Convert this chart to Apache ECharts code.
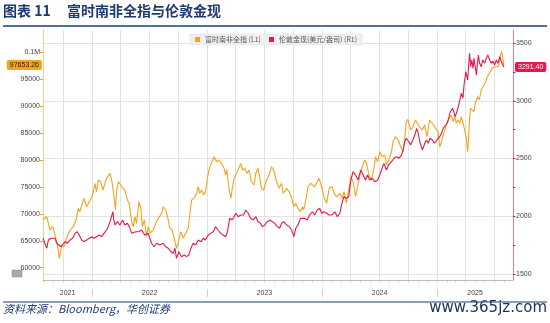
<!DOCTYPE html>
<html><head><meta charset="utf-8">
<script src="https://cdn.jsdelivr.net/npm/echarts@6/dist/echarts.min.js"></script>
<style>html,body{margin:0;padding:0;background:#fff}#c{width:550px;height:323px}</style>
</head><body><div id="c"></div>
<script>
const titleNo = '图表 11';
const titleText = '富时南非全指与伦敦金现';
const sourceText = '资料来源：Bloomberg，华创证券';
const watermark = 'www.365jz.com';
const jseName = '富时南非全指 (L1)';
const goldName = '伦敦金现(美元/盎司) (R1)';

const jseDates = ['2021-07-29','2021-08-10','2021-08-20','2021-08-29','2021-09-05','2021-09-13','2021-09-19','2021-09-27','2021-10-04','2021-10-12','2021-10-23','2021-11-02','2021-11-11','2021-11-18','2021-11-23','2021-12-06','2021-12-15','2021-12-23','2021-12-31','2022-01-05','2022-01-10','2022-01-15','2022-01-21','2022-01-28','2022-02-04','2022-02-11','2022-02-16','2022-02-27','2022-03-02','2022-03-05','2022-03-09','2022-03-14','2022-03-16','2022-03-20','2022-03-26','2022-04-02','2022-04-08','2022-04-15','2022-04-23','2022-04-29','2022-05-03','2022-05-08','2022-05-12','2022-05-17','2022-05-22','2022-05-30','2022-06-05','2022-06-09','2022-06-16','2022-06-23','2022-06-28','2022-07-04','2022-07-14','2022-07-20','2022-07-30','2022-08-10','2022-08-15','2022-08-23','2022-08-31','2022-09-05','2022-09-12','2022-09-19','2022-09-26','2022-10-01','2022-10-10','2022-10-17','2022-10-25','2022-11-02','2022-11-08','2022-11-13','2022-11-21','2022-11-29','2022-12-04','2022-12-09','2022-12-15','2022-12-22','2022-12-27','2023-01-03','2023-01-10','2023-01-17','2023-01-24','2023-01-31','2023-02-08','2023-02-16','2023-02-24','2023-03-01','2023-03-05','2023-03-11','2023-03-18','2023-03-23','2023-03-28','2023-04-10','2023-04-18','2023-04-24','2023-05-01','2023-05-08','2023-05-15','2023-05-22','2023-05-30','2023-06-05','2023-06-12','2023-06-18','2023-06-23','2023-06-30','2023-07-09','2023-07-17','2023-07-25','2023-08-01','2023-08-10','2023-08-18','2023-08-26','2023-08-31','2023-09-11','2023-09-19','2023-09-27','2023-10-04','2023-10-10','2023-10-17','2023-10-25','2023-10-31','2023-11-04','2023-11-11','2023-11-18','2023-11-26','2023-12-02','2023-12-09','2023-12-17','2023-12-23','2023-12-31','2024-01-07','2024-01-16','2024-01-24','2024-02-02','2024-02-11','2024-02-19','2024-02-27','2024-03-05','2024-03-11','2024-03-19','2024-03-26','2024-04-02','2024-04-09','2024-04-17','2024-04-23','2024-04-30','2024-05-08','2024-05-16','2024-05-22','2024-05-29','2024-06-07','2024-06-15','2024-06-19','2024-06-26','2024-07-03','2024-07-10','2024-07-19','2024-07-24','2024-07-31','2024-08-09','2024-08-14','2024-08-22','2024-08-30','2024-09-07','2024-09-15','2024-09-20','2024-09-25','2024-09-30','2024-10-09','2024-10-16','2024-10-24','2024-10-30','2024-11-07','2024-11-15','2024-11-22','2024-11-30','2024-12-08','2024-12-14','2024-12-21','2024-12-27','2025-01-04','2025-01-09','2025-01-15','2025-01-22','2025-01-30','2025-02-08','2025-02-15','2025-02-20','2025-02-26','2025-03-03','2025-03-08','2025-03-14','2025-03-19','2025-03-27','2025-04-03','2025-04-08','2025-04-10','2025-04-14','2025-04-17','2025-04-23','2025-04-28','2025-05-03','2025-05-10','2025-05-15','2025-05-21','2025-05-27','2025-06-04','2025-06-09','2025-06-14','2025-06-19','2025-06-25','2025-07-02','2025-07-08','2025-07-15','2025-07-21','2025-07-25','2025-07-29','2025-08-01'];
const jseValues = [68860,69480,67000,67620,66070,64210,61740,64210,63900,65520,67000,67620,68860,71040,70400,72900,71330,72260,73190,74120,75680,74120,76300,75980,74440,75680,76610,77540,77230,75980,74440,71970,70720,74440,75980,75370,74750,74440,72580,71970,70110,68250,67620,69480,68250,72260,71090,67620,68860,65760,67620,66450,67000,67930,69180,70110,71330,70720,68860,67320,67000,65460,63600,64530,66690,65460,66390,67320,70110,72580,72900,73830,75050,73830,74440,73510,74120,76910,78770,79700,80630,79700,80020,79400,78470,77230,78160,75050,72900,75050,76610,78160,79400,78160,78470,77540,78160,75980,75370,77540,78470,76610,74750,74440,76300,77230,78770,78160,75980,74750,75680,73830,74750,74120,72900,71330,71970,71040,70400,71330,70720,72580,75050,75680,75980,75050,75980,76610,75050,73190,71970,74750,75050,73510,73190,73830,72900,74120,71970,74440,76910,75980,73190,75050,76910,78770,80020,79400,77230,76300,78770,80630,79700,81560,80630,80950,79090,80020,81560,83420,84350,83730,82490,81560,84050,87140,87580,85590,86210,87450,86840,86150,85590,86520,84350,87450,87770,86520,85910,85280,82490,83420,84980,86520,87770,88380,87140,88070,86840,87450,86840,88070,86210,84350,81560,83120,87450,89630,89920,88990,90850,91780,91170,93030,92710,94570,95500,95200,96430,97060,97360,97680,97360,99540,100150,98920,97653.26];

const goldDates = ['2021-07-29','2021-08-04','2021-08-10','2021-08-15','2021-08-23','2021-08-29','2021-09-05','2021-09-11','2021-09-16','2021-09-24','2021-09-30','2021-10-07','2021-10-14','2021-10-23','2021-10-31','2021-11-08','2021-11-15','2021-11-21','2021-11-29','2021-12-06','2021-12-15','2021-12-23','2021-12-31','2022-01-07','2022-01-15','2022-01-24','2022-01-31','2022-02-08','2022-02-16','2022-02-21','2022-02-27','2022-03-08','2022-03-11','2022-03-15','2022-03-22','2022-03-30','2022-04-08','2022-04-15','2022-04-23','2022-04-29','2022-05-07','2022-05-12','2022-05-20','2022-05-28','2022-06-07','2022-06-17','2022-06-28','2022-07-09','2022-07-17','2022-07-25','2022-08-04','2022-08-15','2022-08-23','2022-08-31','2022-09-08','2022-09-16','2022-09-21','2022-09-26','2022-10-04','2022-10-12','2022-10-21','2022-10-28','2022-11-04','2022-11-11','2022-11-18','2022-11-26','2022-12-04','2022-12-13','2022-12-20','2022-12-27','2023-01-05','2023-01-13','2023-01-21','2023-01-28','2023-02-05','2023-02-14','2023-02-21','2023-03-01','2023-03-07','2023-03-14','2023-03-22','2023-04-03','2023-04-10','2023-04-18','2023-04-27','2023-05-04','2023-05-12','2023-05-19','2023-05-28','2023-06-05','2023-06-12','2023-06-20','2023-06-26','2023-07-04','2023-07-11','2023-07-20','2023-07-28','2023-08-04','2023-08-12','2023-08-20','2023-08-26','2023-09-02','2023-09-11','2023-09-19','2023-09-27','2023-10-04','2023-10-10','2023-10-17','2023-10-25','2023-10-31','2023-11-08','2023-11-15','2023-11-23','2023-12-02','2023-12-09','2023-12-17','2023-12-25','2023-12-31','2024-01-07','2024-01-16','2024-01-24','2024-02-02','2024-02-11','2024-02-19','2024-02-27','2024-03-03','2024-03-11','2024-03-19','2024-03-26','2024-04-02','2024-04-09','2024-04-17','2024-04-25','2024-05-03','2024-05-11','2024-05-18','2024-05-25','2024-06-01','2024-06-08','2024-06-17','2024-06-26','2024-07-03','2024-07-10','2024-07-16','2024-07-24','2024-07-31','2024-08-09','2024-08-17','2024-08-25','2024-09-01','2024-09-10','2024-09-15','2024-09-20','2024-09-25','2024-10-03','2024-10-09','2024-10-16','2024-10-22','2024-10-28','2024-11-02','2024-11-07','2024-11-12','2024-11-15','2024-11-23','2024-11-28','2024-12-04','2024-12-09','2024-12-17','2024-12-24','2024-12-31','2025-01-04','2025-01-09','2025-01-15','2025-01-20','2025-01-25','2025-02-02','2025-02-08','2025-02-12','2025-02-19','2025-02-23','2025-02-27','2025-03-03','2025-03-08','2025-03-14','2025-03-19','2025-03-24','2025-03-28','2025-03-31','2025-04-02','2025-04-08','2025-04-14','2025-04-18','2025-04-21','2025-04-25','2025-04-28','2025-05-02','2025-05-06','2025-05-09','2025-05-12','2025-05-16','2025-05-21','2025-05-26','2025-06-01','2025-06-06','2025-06-11','2025-06-17','2025-06-22','2025-06-27','2025-07-03','2025-07-08','2025-07-13','2025-07-19','2025-07-24','2025-08-01'];
const goldValues = [1809,1766,1723,1794,1809,1823,1809,1766,1751,1736,1751,1780,1766,1794,1809,1852,1866,1838,1794,1780,1794,1809,1823,1809,1823,1838,1823,1852,1881,1910,1953,2039,1968,1924,1953,1924,1968,1924,1939,1910,1852,1838,1866,1866,1881,1838,1852,1766,1736,1766,1751,1766,1736,1723,1693,1679,1723,1636,1693,1650,1664,1650,1664,1723,1766,1751,1794,1780,1809,1794,1838,1852,1866,1910,1881,1852,1838,1823,1866,1982,1968,2026,1996,2011,2011,2054,2026,1982,1968,1996,1953,1939,1910,1924,1953,1968,1953,1939,1910,1896,1939,1953,1924,1910,1881,1823,1896,1924,1982,1996,1982,1968,2011,2039,2011,2054,2069,2026,2039,2026,2011,2011,2039,1996,2026,2097,2169,2155,2169,2314,2386,2357,2314,2400,2357,2314,2357,2314,2329,2299,2314,2357,2415,2458,2400,2444,2472,2502,2516,2502,2530,2574,2645,2675,2645,2617,2660,2703,2761,2718,2645,2632,2574,2632,2660,2632,2675,2660,2632,2660,2675,2689,2718,2761,2747,2805,2862,2905,2935,2905,2862,2891,2935,3006,3065,3021,3151,3208,3252,3180,3411,3295,3353,3281,3368,3295,3223,3324,3396,3324,3295,3353,3324,3368,3396,3353,3324,3344,3310,3353,3324,3381,3338,3291.40];

const leftTickValues = [60000,65000,70000,75000,80000,85000,90000,95000,100000];
const rightLabelValues = [1500,2000,2500,3000,3500];
const rightTickValues = [1500,1750,2000,2250,2500,2750,3000,3250,3500];
const yearLabels = ['2021','2022','2023','2024','2025'];

const X_MIN = '2021-07-29', X_MAX = '2025-08-30';
const Y1_MIN = 57714, Y1_MAX = 104182;
const Y2_MIN = 1448, Y2_MAX = 3612.6;

const ORANGE = '#F7A21B', RED = '#E5194B', NAVY = '#1F3B73';

function ts(s){ const p = s.split('-').map(Number); return Date.UTC(p[0], p[1]-1, p[2]); }
const xmin = ts(X_MIN), xmax = ts(X_MAX);
const monthTicks = [], quarterTicks = [], yearTicks = [];
for (let y = 2021; y <= 2025; y++) for (let m = 0; m < 12; m++) {
  const t = Date.UTC(y, m, 1);
  if (t <= xmin || t >= xmax) continue;
  monthTicks.push(t);
  if (m % 3 === 0) quarterTicks.push(t);
  if (m === 0) yearTicks.push(t);
}
const yearMids = yearLabels.map(function (yl) {
  const y = +yl;
  const a = Math.max(xmin, Date.UTC(y, 0, 1));
  const b = Math.min(xmax, Date.UTC(y + 1, 0, 1));
  return (a + b) / 2;
});

const jseData = jseDates.map((d, i) => [ts(d), jseValues[i]]);
const goldData = goldDates.map((d, i) => [ts(d), goldValues[i]]);
const jseLast = jseValues[jseValues.length - 1];
const goldLast = goldValues[goldValues.length - 1];

const chart = echarts.init(document.getElementById('c'), null, {renderer: 'canvas'});
const axisFont = 'Liberation Sans';
chart.setOption({
  animation: false,
  backgroundColor: '#fff',
  grid: {left: 43, right: 37, top: 30, bottom: 43},
  legend: {
    top: 34, left: 190, itemWidth: 5, itemHeight: 5, itemGap: 8, icon: 'rect',
    backgroundColor: '#f0f0f0', borderColor: '#e0e0e0', borderWidth: 0.5,
    padding: [2, 5],
    textStyle: {fontSize: 7, color: '#555', fontFamily: 'Noto Sans CJK SC'},
    data: [jseName, goldName]
  },
  xAxis: [
    {type: 'value', min: xmin, max: xmax,
     axisLine: {show: true, lineStyle: {color: '#bdbdbd', width: 1}},
     axisTick: {show: true, customValues: monthTicks, length: 2, lineStyle: {color: '#bdbdbd'}},
     axisLabel: {show: false}, splitLine: {show: false}},
    {type: 'value', min: xmin, max: xmax, position: 'bottom',
     axisLine: {show: false}, axisTick: {show: false, customValues: quarterTicks},
     axisLabel: {show: false},
     splitLine: {show: true, lineStyle: {color: '#e2e2e2', width: 1}}},
    {type: 'value', min: xmin, max: xmax, position: 'bottom', offset: 9,
     axisLine: {show: false},
     axisTick: {show: true, customValues: yearTicks, length: 8, lineStyle: {color: '#d0d0d0'}},
     axisLabel: {show: true, customValues: yearMids, margin: 1, fontSize: 7, color: '#444', fontFamily: axisFont,
       formatter: function (v) { return String(new Date(v).getUTCFullYear()); }},
     splitLine: {show: false}}
  ],
  yAxis: [
    {type: 'value', position: 'left', min: Y1_MIN, max: Y1_MAX,
     axisLine: {show: true, lineStyle: {color: '#F8CB8A', width: 1}},
     axisTick: {show: true, customValues: leftTickValues, length: 3, lineStyle: {color: ORANGE}},
     axisLabel: {show: true, customValues: leftTickValues, margin: 3, fontSize: 7, color: '#444', fontFamily: axisFont,
       formatter: function (v) { return v >= 100000 ? '0.1M' : String(v); }},
     splitLine: {show: false}},
    {type: 'value', position: 'right', min: Y2_MIN, max: Y2_MAX,
     axisLine: {show: true, lineStyle: {color: '#F07A98', width: 1}},
     axisTick: {show: true, customValues: rightTickValues, length: 2.5, lineStyle: {color: '#E5194B'}},
     axisLabel: {show: true, customValues: rightLabelValues, margin: 3, fontSize: 7, color: '#444', fontFamily: axisFont,
       formatter: function (v) { return String(v); }},
     splitLine: {show: false}},
    {type: 'value', position: 'right', min: Y2_MIN, max: Y2_MAX,
     axisLine: {show: false}, axisTick: {show: false, customValues: rightLabelValues},
     axisLabel: {show: false},
     splitLine: {show: true, lineStyle: {color: '#e2e2e2', width: 1}}}
  ],
  series: [
    {name: jseName, type: 'line', xAxisIndex: 0, yAxisIndex: 0, data: jseData,
     showSymbol: false, symbol: 'none', lineStyle: {color: ORANGE, width: 1.1}, itemStyle: {color: ORANGE},
     markLine: {silent: true, symbol: ['none', 'none'], animation: false,
       lineStyle: {color: 'rgba(0,0,0,0)', width: 0},
       label: {show: true, position: 'start', distance: 1, formatter: jseLast.toFixed(2),
         backgroundColor: ORANGE, color: '#222', fontSize: 7, fontFamily: axisFont, padding: [2, 3, 1, 3], borderRadius: 2},
       data: [{yAxis: jseLast}]}},
    {name: goldName, type: 'line', xAxisIndex: 0, yAxisIndex: 1, data: goldData,
     showSymbol: false, symbol: 'none', lineStyle: {color: RED, width: 1.1}, itemStyle: {color: RED},
     markLine: {silent: true, symbol: ['none', 'none'], animation: false,
       lineStyle: {color: 'rgba(0,0,0,0)', width: 0},
       label: {show: true, position: 'end', distance: 2, formatter: goldLast.toFixed(2),
         backgroundColor: RED, color: '#fff', fontSize: 7, fontFamily: axisFont, padding: [2, 3, 1, 3], borderRadius: 2},
       data: [{yAxis: goldLast}]}}
  ],
  graphic: [
    {type: 'text', left: 3, top: 4, style: {text: titleNo, font: 'bold 14px "Noto Sans CJK SC"', fill: NAVY}},
    {type: 'text', left: 67, top: 4, style: {text: titleText, font: 'bold 14px "Noto Sans CJK SC"', fill: NAVY}},
    {type: 'line', shape: {x1: 3, y1: 26, x2: 547, y2: 26}, style: {stroke: NAVY, lineWidth: 1.5}},
    {type: 'line', shape: {x1: 3, y1: 302, x2: 547, y2: 302}, style: {stroke: NAVY, lineWidth: 1.2}},
    {type: 'text', left: 3, top: 303, style: {text: sourceText, font: 'italic 11px "Noto Sans CJK SC"', fill: NAVY}},
    {type: 'text', right: 3, top: 301, style: {text: watermark, font: '15px "DejaVu Sans"', fill: '#1C3563'}},
    {type: 'rect', shape: {x: 12, y: 270, width: 10, height: 7}, style: {fill: '#a9a9a9', stroke: '#8c8c8c', lineWidth: 0.5}}
  ]
});
</script>
</body></html>
